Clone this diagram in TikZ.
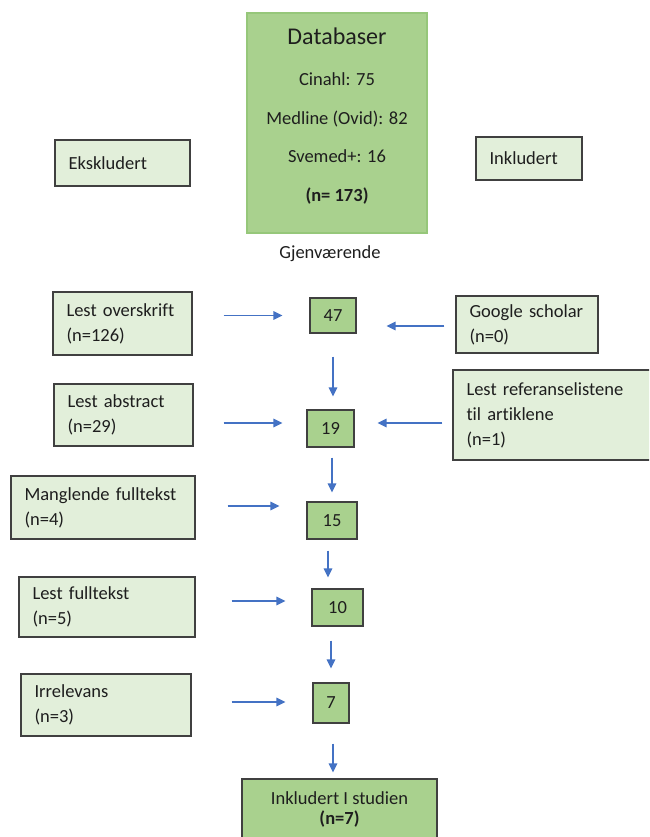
\documentclass[tikz,border=0pt]{standalone}
\usepackage{fontspec}
\setmainfont{Carlito}[Ligatures={NoCommon}]
\usetikzlibrary{arrows.meta}
\definecolor{lightg}{HTML}{E2EFDA}
\definecolor{midg}{HTML}{A9D18E}
\definecolor{dbborder}{HTML}{96C77A}
\definecolor{arrowblue}{HTML}{4472C4}
\definecolor{boxline}{HTML}{404040}
\definecolor{txt}{HTML}{1E1E1E}
\begin{document}
\begin{tikzpicture}[x=1pt,y=-1pt,
  sidebox/.style={draw=boxline, line width=1.1pt, fill=lightg, inner xsep=13.5pt, inner ysep=0pt,
    align=left, text=txt, font=\fontsize{18.5}{25}\selectfont},
  numbox/.style={draw=boxline, line width=1.1pt, fill=midg, inner sep=0pt, text=txt,
    font=\fontsize{18.5}{22}\selectfont},
  arr/.style={draw=arrowblue, line width=1.3pt, -{Triangle[length=9pt,width=8.5pt]}}]
\useasboundingbox (0,0) rectangle (649,837);
\clip (0,0) rectangle (649,837);
\fill[white] (0,0) rectangle (649,837);

% Databases box
\node[draw=dbborder, line width=1.1pt, fill=midg, minimum width=180pt, minimum height=220pt, inner sep=0pt] (db) at (337,123) {};
\node[align=center, text=txt, font=\fontsize{18.5}{38.5}\selectfont] (dbt) at (337,116)
  {{\fontsize{24}{24}\selectfont Databaser}\\[2.5pt]
   Cinahl: 75\\ Medline (Ovid): 82\\ Svemed+: 16\\ \textbf{(n= 173)}};

\node[sidebox, text width=108pt, minimum height=46pt] (ek) at (122.5,163) {Ekskludert};
\node[sidebox, text width=79pt, minimum height=43pt] (ink) at (529,158.5) {Inkludert};

\node[text=txt, font=\fontsize{18.5}{22}\selectfont] (gj) at (330,254) {Gjenværende};

% left boxes
\node[sidebox, text width=112pt, minimum height=63pt] (lo) at (122.5,323.5) {Lest overskrift\\(n=126)};
\node[sidebox, text width=112pt, minimum height=62pt] (la) at (123.5,415) {Lest abstract\\(n=29)};
\node[sidebox, text width=157pt, minimum height=63pt] (mf) at (103,507.5) {Manglende fulltekst\\(n=4)};
\node[sidebox, text width=149pt, minimum height=60pt] (lf) at (107,607) {Lest fulltekst\\(n=5)};
\node[sidebox, text width=143pt, minimum height=62pt] (ir) at (106,705) {Irrelevans\\(n=3)};

% right boxes
\node[sidebox, text width=115pt, minimum height=57pt] (gs) at (527,324.5) {Google scholar\\(n=0)};
\node[sidebox, text width=185pt, minimum height=90pt] (rl) at (559,415) {Lest referanselistene\\til artiklene\\(n=1)};

% number boxes
\node[numbox, minimum width=46pt, minimum height=35pt] (n47) at (333,315.5) {47};
\node[numbox, minimum width=47pt, minimum height=37pt] (n19) at (330.5,428.5) {19};
\node[numbox, minimum width=50pt, minimum height=37pt] (n15) at (332,520.5) {15};
\node[numbox, minimum width=51pt, minimum height=37pt] (n10) at (337.5,607.5) {10};
\node[numbox, minimum width=36pt, minimum height=40pt] (n7) at (331,703) {7};

% final box
\node[numbox, align=center, minimum width=195pt, minimum height=61pt, font=\fontsize{18.5}{20}\selectfont] (fin) at (339.5,809.5)
  {Inkludert I studien\\\textbf{(n=7)}};

% horizontal arrows
\draw[arr, shorten <=31pt, shorten >=27pt] (n47.west -| lo.east) -- (n47.west);
\draw[arr, shorten <=30pt, shorten >=24pt] ([yshift=5.5pt]n19.west -| la.east) -- ([yshift=5.5pt]n19.west);
\draw[arr, shorten <=32pt, shorten >=27pt] ([yshift=14.5pt]n15.west -| mf.east) -- ([yshift=14.5pt]n15.west);
\draw[arr, shorten <=36pt, shorten >=26pt] ([yshift=6.5pt]n10.west -| lf.east) -- ([yshift=6.5pt]n10.west);
\draw[arr, shorten <=40pt, shorten >=27pt] ([yshift=1pt]n7.west -| ir.east) -- ([yshift=1pt]n7.west);
\draw[arr, shorten <=11pt, shorten >=30pt] ([yshift=-1.5pt]gs.west) -- ([yshift=-1.5pt]gs.west -| n47.east);
\draw[arr, shorten <=10pt, shorten >=23pt] ([yshift=-8pt]rl.west) -- ([yshift=-8pt]rl.west -| n19.east);

% vertical arrows
\draw[arr, shorten <=23pt, shorten >=13pt] (n47.south) -- (n47.south |- n19.north);
\draw[arr, shorten <=10pt, shorten >=9pt] (n15.north |- n19.south) -- (n15.north);
\draw[arr, shorten <=11pt, shorten >=11pt] ([xshift=-4pt]n15.south) -- ([xshift=-4pt]n15.south |- n10.north);
\draw[arr, shorten <=14pt, shorten >=14pt] (n7.north |- n10.south) -- (n7.north);
\draw[arr, shorten <=20pt, shorten >=6pt] ([xshift=2pt]n7.south) -- ([xshift=2pt]n7.south |- fin.north);
\end{tikzpicture}
\end{document}
